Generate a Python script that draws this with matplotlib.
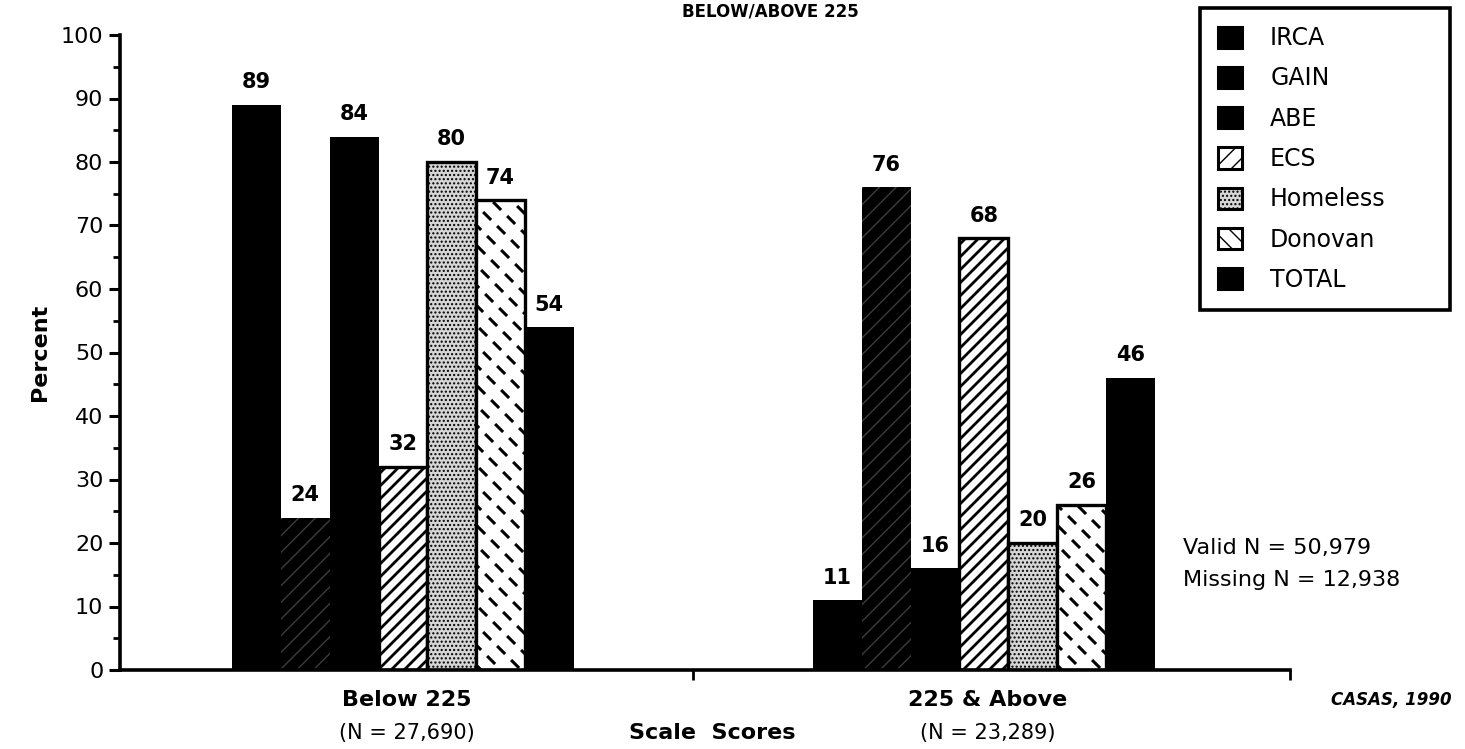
import numpy as np
import matplotlib
matplotlib.use("Agg")
import matplotlib.pyplot as plt
from matplotlib.patches import Patch
from matplotlib.collections import LineCollection
from matplotlib.transforms import IdentityTransform
from matplotlib.ticker import MultipleLocator

# ---- data -------------------------------------------------------------
categories = ["Below 225", "225 & Above"]
category_counts = ["(N = 27,690)", "(N = 23,289)"]
programs = ["IRCA", "GAIN", "ABE", "ECS", "Homeless", "Donovan", "TOTAL"]
irca = [89, 11]
gain = [24, 76]
abe = [84, 16]
ecs = [32, 68]
homeless = [80, 20]
donovan = [74, 26]
total = [54, 46]
series = [irca, gain, abe, ecs, homeless, donovan, total]
y_ticks = list(range(0, 101, 10))

plt.rcParams["font.family"] = ["DejaVu Sans"]

W, H = 1465, 749
fig = plt.figure(figsize=(W / 100, H / 100), dpi=100)
ax = fig.add_axes([120 / W, 1 - 670 / H, 1170 / W, 635 / H])
ax.set_xlim(-0.487, 1.527)
ax.set_ylim(0, 100)

bar_w = 0.084
x = np.arange(len(categories))

# fill style for each program
styles = {
    "IRCA":     dict(facecolor="black", edgecolor="black", linewidth=0),
    "GAIN":     dict(facecolor="black", edgecolor="#3c3c3c", linewidth=0, hatch="//"),
    "ABE":      dict(facecolor="black", edgecolor="black", linewidth=0),
    "ECS":      dict(facecolor="white", edgecolor="black", linewidth=2.4),
    "Homeless": dict(facecolor="#d6d6d6", edgecolor="black", linewidth=2.4, hatch="...."),
    "Donovan":  dict(facecolor="white", edgecolor="black", linewidth=2.4),
    "TOTAL":    dict(facecolor="black", edgecolor="black", linewidth=0),
}

containers = {}
for i, (name, vals) in enumerate(zip(programs, series)):
    off = (i - (len(programs) - 1) / 2) * bar_w
    bc = ax.bar(x + off, vals, bar_w, zorder=2, **styles[name])
    containers[name] = bc
    for rect, v in zip(bc, vals):
        ax.annotate(f"{v}", (rect.get_x() + rect.get_width() / 2, v),
                    xytext=(0, 9), textcoords="offset points",
                    ha="center", va="bottom", fontsize=15, fontweight="bold")


def bar_pixels(rect):
    (x0, y0), (x1, y1) = ax.transData.transform(
        [(rect.get_x(), rect.get_y()),
         (rect.get_x() + rect.get_width(), rect.get_y() + rect.get_height())])
    return x0, y0, x1, y1


# diagonal stripes for ECS
for rect in containers["ECS"]:
    x0, y0, x1, y1 = bar_pixels(rect)
    s = 13.0
    segs = []
    c = np.floor((x0 - y1) / s) * s - s
    while c < x1 - y0 + s:
        segs.append([(y0 + c, y0), (y1 + c, y1)])
        c += s
    lc = LineCollection(segs, colors="black", linewidths=2.0,
                        transform=IdentityTransform(), zorder=2.5)
    ax.add_collection(lc)
    lc.set_clip_path(rect)

# short back-slanted dashes laid out along forward diagonals for Donovan
for rect in containers["Donovan"]:
    x0, y0, x1, y1 = bar_pixels(rect)
    u = np.array([10.0, 10.0])    # step along a chain
    v = np.array([14.0, -14.0])   # step between chains
    half = 4.0
    segs = []
    span = int((x1 - x0 + y1 - y0) / 8) + 4
    for i in range(-span, span + 1):
        for j in range(-span, span + 1):
            cx, cy = np.array([x0 + 5, y0]) + i * u + j * v
            if x0 - 10 <= cx <= x1 + 10 and y0 - 10 <= cy <= y1 + 10:
                segs.append([(cx - half, cy + half), (cx + half, cy - half)])
    lc = LineCollection(segs, colors="black", linewidths=2.2, capstyle="butt",
                        transform=IdentityTransform(), zorder=2.5)
    ax.add_collection(lc)
    lc.set_clip_path(rect)

# ---- axes styling -----------------------------------------------------
for side in ("top", "right"):
    ax.spines[side].set_visible(False)
for side in ("left", "bottom"):
    ax.spines[side].set_linewidth(2.6)

ax.set_yticks(y_ticks)
ax.yaxis.set_minor_locator(MultipleLocator(5))
ax.tick_params(axis="y", which="major", direction="out", length=8, width=2.2,
               labelsize=16, pad=4)
ax.tick_params(axis="y", which="minor", direction="out", length=5, width=2.0)
ax.set_xticks([0.5, 1.527])
ax.set_xticklabels([])
ax.tick_params(axis="x", which="major", direction="out", length=7, width=2.0)

for xi, cat, cnt in zip(x, categories, category_counts):
    px = ax.transData.transform((xi, 0))[0]
    fig.text((px + 4) / W, 1 - 700 / H, cat, ha="center", va="center",
             fontsize=16, fontweight="bold")
    fig.text((px + 4) / W, 1 - 733 / H, cnt, ha="center", va="center", fontsize=15)

fig.text(712 / W, 1 - 733 / H, "Scale  Scores", ha="center", va="center",
         fontsize=16, fontweight="bold")
fig.text(1452 / W, 1 - 700 / H, "CASAS, 1990", ha="right", va="center",
         fontsize=12, fontweight="bold", fontstyle="italic")
fig.text(40 / W, 1 - 352 / H, "Percent", rotation=90, ha="center", va="center",
         fontsize=16, fontweight="bold")
fig.text(1183 / W, 1 - 548 / H, "Valid N = 50,979", ha="left", va="center", fontsize=16)
fig.text(1183 / W, 1 - 580 / H, "Missing N = 12,938", ha="left", va="center", fontsize=16)

# chart title along the top edge
fig.text(770 / W, 1 - 2 / H, "BELOW/ABOVE 225", ha="center", va="top",
         fontsize=12, fontweight="bold")

# ---- legend -----------------------------------------------------------
legend_fill = {
    "IRCA": dict(facecolor="black", edgecolor="black"),
    "GAIN": dict(facecolor="black", edgecolor="black"),
    "ABE": dict(facecolor="black", edgecolor="black"),
    "ECS": dict(facecolor="white", edgecolor="black", hatch="//"),
    "Homeless": dict(facecolor="#d6d6d6", edgecolor="black", hatch="...."),
    "Donovan": dict(facecolor="white", edgecolor="black", hatch="\\\\"),
    "TOTAL": dict(facecolor="black", edgecolor="black"),
}
handles = [Patch(linewidth=2.2, **legend_fill[p]) for p in programs]
leg = fig.legend(handles, programs, loc="upper left",
                 bbox_to_anchor=(1200 / W, 1 - 340 / H, 250 / W, 332 / H),
                 mode="expand", borderaxespad=0, fontsize=17,
                 handlelength=1.0, handleheight=1.0, handletextpad=1.2,
                 labelspacing=0.69, borderpad=0.77, fancybox=False,
                 framealpha=1, edgecolor="black")
leg.get_frame().set_linewidth(2.6)

fig.savefig("out.png", dpi=100)
